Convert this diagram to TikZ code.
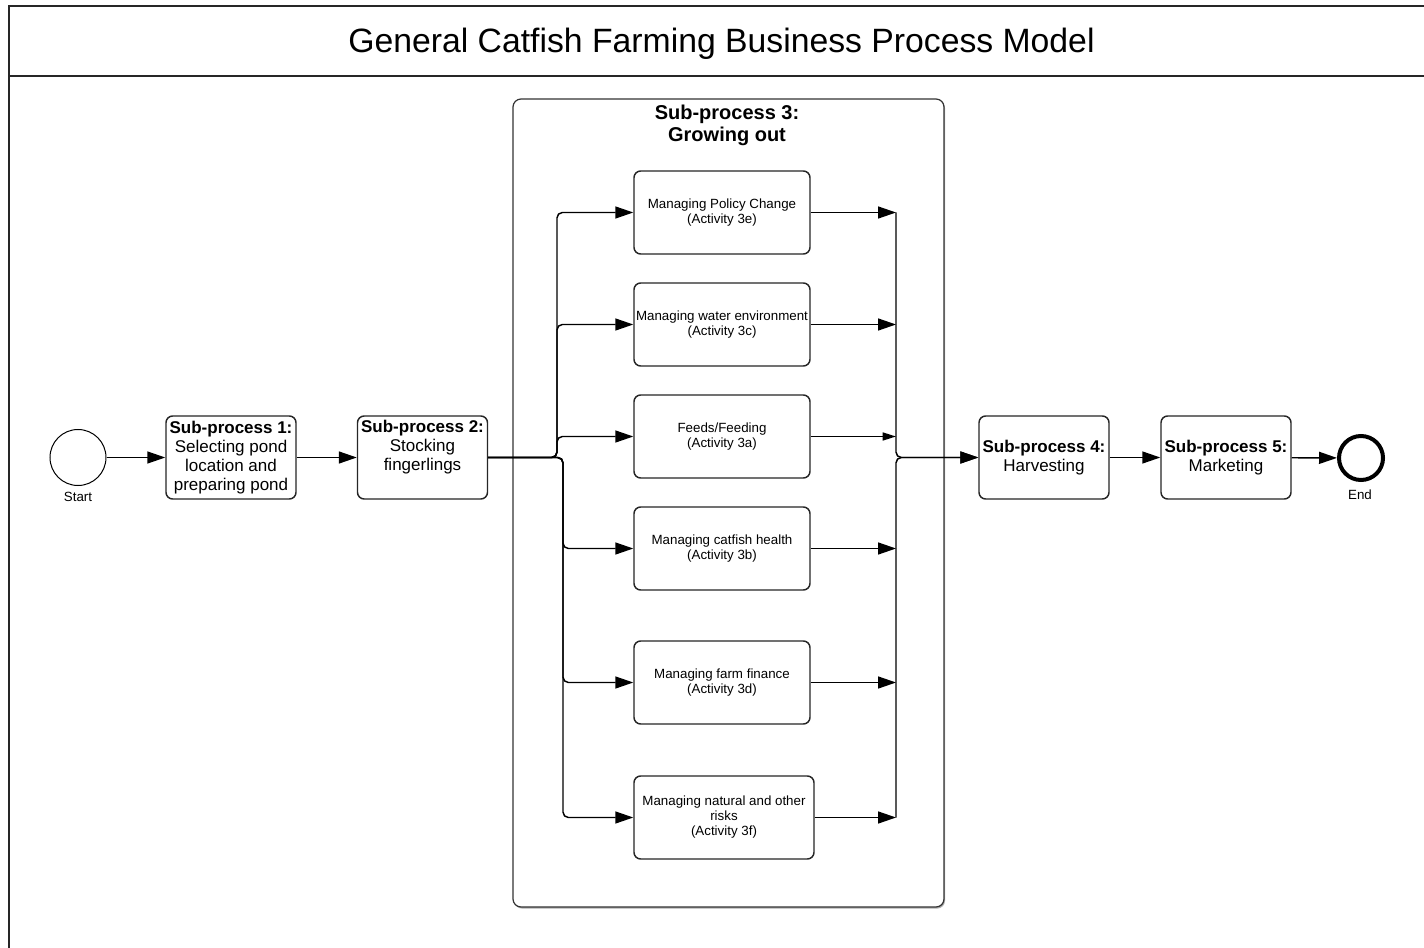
\documentclass[tikz,border=0pt]{standalone}
\usepackage{fontspec}
\setmainfont{Liberation Sans}
\usetikzlibrary{arrows.meta,shadows}
\begin{document}
\begin{tikzpicture}[x=0.75pt,y=-0.75pt,
  frameline/.style={line width=1.5pt, draw=black!85},
  task/.style={draw=black!85, line width=1.1pt, rounded corners=5pt, fill=white,
    align=center, inner sep=0pt},
  sub/.style={task, minimum width=97.5pt, minimum height=62.25pt,
    font=\fontsize{12.75}{14.25}\selectfont},
  act/.style={task, minimum width=132pt, minimum height=62.25pt,
    font=\fontsize{10}{11.25}\selectfont},
  container/.style={draw=black!80, line width=0.9pt, rounded corners=6pt, fill=white,
    minimum width=323.25pt, minimum height=606pt, inner sep=0pt,
    drop shadow={shadow xshift=0.8pt, shadow yshift=-1.2pt, opacity=0.45, fill=black!70}},
  event/.style={circle, draw=black, fill=white, inner sep=0pt},
  lbl/.style={font=\fontsize{10}{12}\selectfont, anchor=base},
  flow/.style={line width=1.1pt, -{Triangle[length=13.5pt,width=9pt]}},
  link/.style={line width=1.1pt}
]
\useasboundingbox (0,0) rectangle (1424,948);

% title frame
\draw[frameline] (1424,6.5) -- (9,6.5) -- (9,948);
\draw[frameline] (9,76) -- (1424,76);
\node[anchor=base, font=\fontsize{25.3}{30}\selectfont] (title) at (721.5,53)
  {General Catfish Farming Business Process Model};

% sub-process 3 container
\node[container] (sp3) at (728.5,503) {};
\node[font=\fontsize{15}{16.5}\selectfont\bfseries, align=center] (sp3t) at (727,125)
  {Sub-process 3:\\Growing out};

% events
\node[event, line width=0.75pt, minimum size=42pt] (start) at (78,457.5) {};
\node[lbl] (startl) at (78,501) {Start};
\node[event, line width=3pt, minimum size=33pt] (end) at (1361,458) {};
\node[lbl] (endl) at (1360,499) {End};

% main sub-processes
\node[sub] (sp1) at (231,457.5) {\textbf{Sub-process 1:}\\Selecting pond\\location and\\preparing pond};
\node[sub] (sp2) at (422.5,457.5) {\textbf{Sub-process 2:}\\Stocking\\fingerlings\\\strut};
\node[sub] (sp4) at (1044,457.5) {\textbf{Sub-process 4:}\\Harvesting};
\node[sub] (sp5) at (1226,457.5) {\textbf{Sub-process 5:}\\Marketing};

% activities of sub-process 3
\node[act] (a3e) at (722,212.5) {Managing Policy Change\\(Activity 3e)};
\node[act] (a3c) at (722,324.5) {Managing water environment\\(Activity 3c)};
\node[act] (a3a) at (722,436.5) {Feeds/Feeding\\(Activity 3a)};
\node[act] (a3b) at (722,548.5) {Managing catfish health\\(Activity 3b)};
\node[act] (a3d) at (722,682.5) {Managing farm finance\\(Activity 3d)};
\node[act, minimum width=135pt] (a3f) at (724,817.5) {Managing natural and other\\risks\\(Activity 3f)};

% merge points on the right
\coordinate (j3e) at (896,212.5);
\coordinate (j3c) at (896,324.5);
\coordinate (j3a) at (896,436.5);
\coordinate (j3b) at (896,548.5);
\coordinate (j3d) at (896,682.5);
\coordinate (j3f) at (896,817.5);

% sequence flows
\draw[flow] (start) -- (sp1);
\draw[flow] (sp1) -- (sp2);

% split after stocking
\draw[flow, rounded corners=4pt] (sp2.east) -| (557,212.5) -- (a3e.west);
\draw[flow, rounded corners=4pt] (sp2.east) -| (557,324.5) -- (a3c.west);
\draw[flow, rounded corners=4pt] (sp2.east) -| (557,436.5) -- (a3a.west);
\draw[flow, rounded corners=4pt] (sp2.east) -| (563,548.5) -- (a3b.west);
\draw[flow, rounded corners=4pt] (sp2.east) -| (563,682.5) -- (a3d.west);
\draw[flow, rounded corners=4pt] (sp2.east) -| (563,817.5) -- (a3f.west);

% activity outputs
\draw[flow] (a3e.east) -- (j3e);
\draw[flow] (a3c.east) -- (j3c);
\draw[line width=1.1pt, -{Triangle[length=10pt,width=6pt]}] (a3a.east) -- (j3a);
\draw[flow] (a3b.east) -- (j3b);
\draw[flow] (a3d.east) -- (j3d);
\draw[flow] (a3f.east) -- (j3f);

% merge into harvesting
\draw[flow, rounded corners=4pt] (j3e) |- (sp4.west);
\draw[flow, rounded corners=4pt] (j3f) |- (sp4.west);

\draw[flow] (sp4) -- (sp5);
\draw[flow] (sp5) -- (end);
\end{tikzpicture}
\end{document}
